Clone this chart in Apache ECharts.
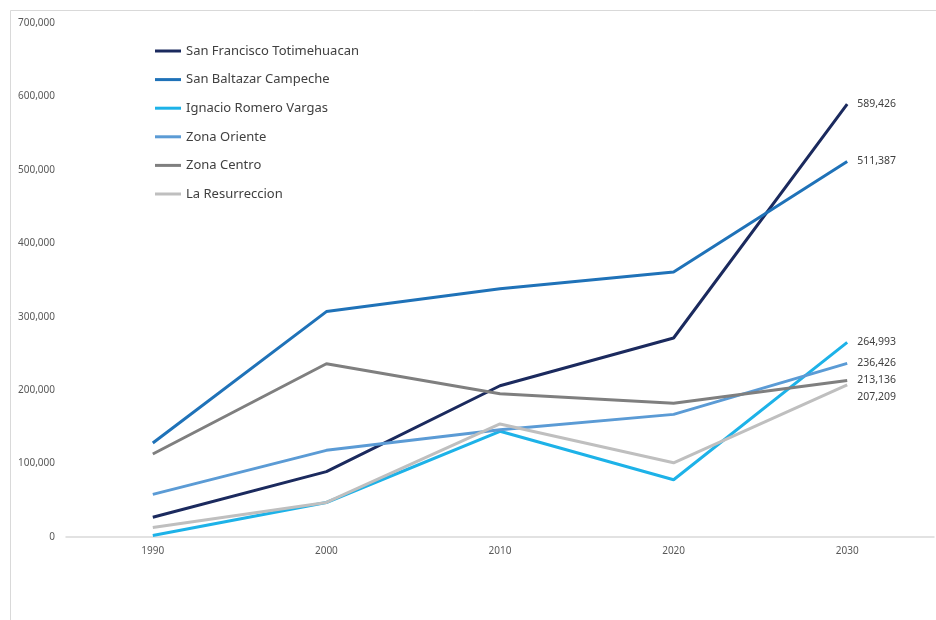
<!DOCTYPE html>
<html>
<head>
<meta charset="utf-8">
<script src="https://cdn.jsdelivr.net/npm/echarts@6/dist/echarts.min.js"></script>
<style>html,body{margin:0;padding:0;background:#fff}#chart{width:936px;height:620px}</style>
</head>
<body>
<div id="chart"></div>
<script>
const years = ['1990', '2000', '2010', '2020', '2030'];
const seriesNames = ['San Francisco Totimehuacan', 'San Baltazar Campeche', 'Ignacio Romero Vargas', 'Zona Oriente', 'Zona Centro', 'La Resurreccion'];
const sanFrancisco = [27000, 89000, 206000, 271000, 589426];
const sanBaltazar = [128000, 307000, 338000, 361000, 511387];
const ignacioRomero = [2000, 47000, 144000, 78000, 264993];
const zonaOriente = [58000, 118000, 146000, 167000, 236426];
const zonaCentro = [113000, 236000, 195000, 182000, 213136];
const laResurreccion = [13000, 47000, 154000, 101000, 207209];
const yTicks = [0, 100000, 200000, 300000, 400000, 500000, 600000, 700000];

const values = [sanFrancisco, sanBaltazar, ignacioRomero, zonaOriente, zonaCentro, laResurreccion];
const colors = ['#1b2a5e', '#1f72b8', '#1db2e8', '#5b9bd5', '#7f7f7f', '#bfbfbf'];
const labelOffsets = [[0, 0], [0, 0], [0, 0], [0, 0], [0, 0], [0, 12]];
const fmt = v => Math.round(v).toLocaleString('en-US');

const chart = echarts.init(document.getElementById('chart'));
chart.setOption({
  animation: false,
  backgroundColor: '#fff',
  textStyle: { fontFamily: 'Noto Sans' },
  graphic: [{
    type: 'rect', left: 8, top: 8, z: -1,
    shape: { width: 1000, height: 700 },
    style: { fill: 'none', stroke: '#d9d9d9', lineWidth: 1 }
  }],
  grid: { left: 66, right: 2, top: 23, bottom: 83 },
  legend: {
    orient: 'vertical', left: 150, top: 39,
    itemWidth: 26, itemHeight: 3, itemGap: 14.6,
    icon: 'rect',
    textStyle: { fontSize: 13, color: '#404040', lineHeight: 14, fontFamily: 'Noto Sans' },
    data: seriesNames
  },
  xAxis: {
    type: 'category', data: years, boundaryGap: true,
    axisTick: { show: false },
    axisLine: { lineStyle: { color: '#d9d9d9', width: 1.5 } },
    axisLabel: { color: '#595959', fontSize: 10, margin: 9 }
  },
  yAxis: {
    type: 'value', min: yTicks[0], max: yTicks[yTicks.length - 1], interval: yTicks[1] - yTicks[0],
    splitLine: { show: false },
    axisLine: { show: false }, axisTick: { show: false },
    axisLabel: { color: '#595959', fontSize: 10, margin: 11, formatter: v => fmt(v) }
  },
  series: seriesNames.map((name, i) => ({
    name, type: 'line', data: values[i],
    color: colors[i],
    symbol: 'none',
    lineStyle: { width: 3, color: colors[i] },
    endLabel: {
      show: true, distance: 10, offset: labelOffsets[i],
      color: '#404040', fontSize: 10.5,
      formatter: p => fmt(p.value)
    }
  }))
});
</script>
</body>
</html>
